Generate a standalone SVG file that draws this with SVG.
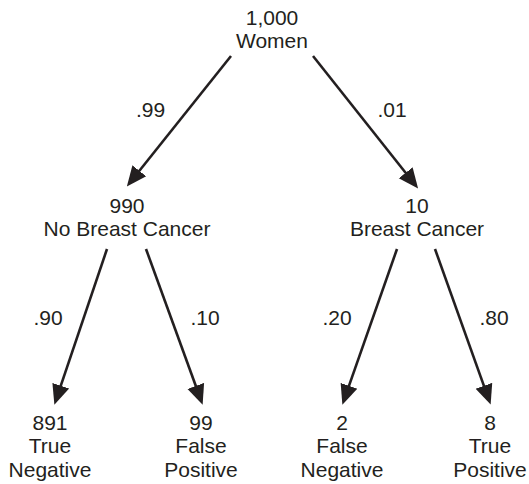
<svg xmlns="http://www.w3.org/2000/svg" width="529" height="484" viewBox="0 0 529 484">
<style>
text{font-family:"Liberation Sans",Arial,Helvetica,sans-serif;font-size:21px;fill:#231f20;text-anchor:middle}
.c line{stroke:#231f20;stroke-width:2.6;fill:none}
</style>
<defs>
<marker id="ah" markerUnits="userSpaceOnUse" markerWidth="20" markerHeight="20" viewBox="0 -8 17 16" refX="1" refY="0" orient="auto">
<path d="M0,-7.5 L17,0 L0,7.5 Z" fill="#231f20"/>
</marker>
</defs>
<rect width="529" height="484" fill="#fff"/>
<g id="connectors" class="c">
<line x1="231" y1="56" x2="138.6" y2="171.7" marker-end="url(#ah)"/>
<line x1="313" y1="56" x2="406.4" y2="173.7" marker-end="url(#ah)"/>
<line x1="107" y1="249" x2="60.4" y2="386.9" marker-end="url(#ah)"/>
<line x1="146" y1="249" x2="196.2" y2="387.0" marker-end="url(#ah)"/>
<line x1="397" y1="249" x2="348.6" y2="386.9" marker-end="url(#ah)"/>
<line x1="435" y1="249" x2="484.3" y2="386.9" marker-end="url(#ah)"/>
</g>
<g id="labels">
<text x="150.5" y="117">.99</text>
<text x="392" y="117">.01</text>
<text x="48" y="325">.90</text>
<text x="205" y="325">.10</text>
<text x="337" y="325">.20</text>
<text x="494" y="325">.80</text>
</g>
<g id="root"><text x="272" y="25">1,000</text><text x="272" y="48">Women</text></g>
<g id="no-cancer"><text x="127" y="213">990</text><text x="127" y="236">No Breast Cancer</text></g>
<g id="cancer"><text x="417" y="213">10</text><text x="417" y="236">Breast Cancer</text></g>
<g id="true-negative"><text x="50" y="430">891</text><text x="50" y="453">True</text><text x="50" y="477">Negative</text></g>
<g id="false-positive"><text x="201" y="430">99</text><text x="201" y="453">False</text><text x="201" y="477">Positive</text></g>
<g id="false-negative"><text x="342" y="430">2</text><text x="342" y="453">False</text><text x="342" y="477">Negative</text></g>
<g id="true-positive"><text x="490" y="430">8</text><text x="490" y="453">True</text><text x="490" y="477">Positive</text></g>
</svg>
